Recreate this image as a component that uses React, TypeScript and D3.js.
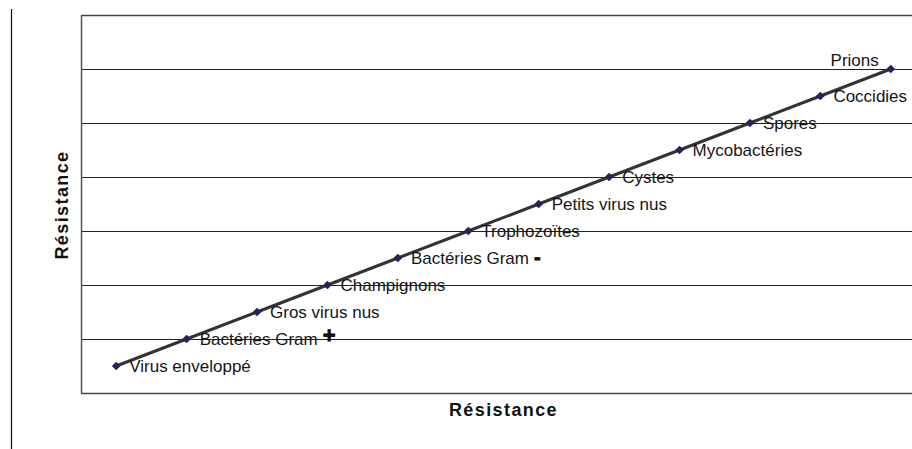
import React, { useEffect, useRef } from 'react'
import * as d3 from 'd3'

const categories = ['Virus enveloppé', 'Bactéries Gram', 'Gros virus nus', 'Champignons', 'Bactéries Gram', 'Trophozoïtes', 'Petits virus nus', 'Cystes', 'Mycobactéries', 'Spores', 'Coccidies', 'Prions'];
const suffixes = ['', '+', '', '', '-', '', '', '', '', '', '', ''];
const resistance = [1, 2, 3, 4, 5, 6, 7, 8, 9, 10, 11, 12];
const gridValues = [2, 4, 6, 8, 10, 12];

export default function App() {
  const ref = useRef<SVGSVGElement | null>(null);
  useEffect(() => {
    if (!ref.current) return;
    const svg = d3.select(ref.current);
    svg.selectAll('*').remove();
    const W = 912, H = 449;
    const left = 81, top = 15, bottom = 393, right = 926;
    const ids = categories.map((_, i) => String(i));
    const x = d3.scaleBand().domain(ids).range([left, right]).padding(0);
    const cx = (i: number) => (x(String(i)) as number) + x.bandwidth() / 2;
    const y = d3.scaleLinear().domain([0, 14]).range([bottom, top]);
    const font = '"Liberation Sans", Arial, sans-serif';

    svg.append('rect').attr('width', W).attr('height', H).attr('fill', '#fff');
    // outer frame line on the left
    svg.append('line').attr('x1', 11.5).attr('x2', 11.5).attr('y1', 9).attr('y2', H).attr('stroke', '#111').attr('stroke-width', 1.2);

    const g = svg.append('g');
    g.selectAll('line.grid').data(gridValues).enter().append('line')
      .attr('x1', left).attr('x2', right)
      .attr('y1', d => Math.round(y(d)) + 0.5).attr('y2', d => Math.round(y(d)) + 0.5)
      .attr('stroke', '#222').attr('stroke-width', 1.1);
    // plot border
    g.append('line').attr('x1', left).attr('x2', right).attr('y1', top + 0.5).attr('y2', top + 0.5).attr('stroke', '#444').attr('stroke-width', 1.5);
    g.append('line').attr('x1', left).attr('x2', right).attr('y1', bottom + 0.5).attr('y2', bottom + 0.5).attr('stroke', '#444').attr('stroke-width', 1.5);
    g.append('line').attr('x1', left + 0.5).attr('x2', left + 0.5).attr('y1', top).attr('y2', bottom).attr('stroke', '#555').attr('stroke-width', 1.5);

    const line = d3.line<number>().x((_, i) => cx(i)).y(d => y(d));
    g.append('path').datum(resistance).attr('d', line).attr('fill', 'none').attr('stroke', '#333').attr('stroke-width', 3);

    // square rotated 45° -> even diamond
    const sym = d3.symbol().type(d3.symbolSquare).size(38);
    g.selectAll('path.pt').data(resistance).enter().append('path')
      .attr('d', sym).attr('transform', (d, i) => `translate(${cx(i)},${y(d)}) rotate(45)`)
      .attr('fill', '#23235e');

    resistance.forEach((v, i) => {
      const last = i === resistance.length - 1;
      const t = g.append('text')
        .attr('x', last ? cx(i) - 12 : cx(i) + 13)
        .attr('y', last ? y(v) - 9 : y(v))
        .attr('dy', '0.35em')
        .attr('text-anchor', last ? 'end' : 'start')
        .attr('font-family', font).attr('font-size', 17).attr('fill', '#151515')
        .text(categories[i]);
      if (suffixes[i]) {
        t.append('tspan').attr('font-weight', 'bold').attr('font-size', suffixes[i] === '+' ? 22 : 20)
          .attr('stroke', '#000').attr('stroke-width', 0.8)
          .attr('dx', 5).attr('dy', suffixes[i] === '+' ? -2 : 0).text(suffixes[i]);
      }
    });

    svg.append('text').attr('x', (left + right) / 2).attr('y', 410).attr('dy', '0.35em')
      .attr('text-anchor', 'middle').attr('font-family', font).attr('font-weight', 'bold').attr('font-size', 18)
      .attr('letter-spacing', 1.4).attr('fill', '#111').text('Résistance');
    svg.append('text').attr('transform', `translate(62,205) rotate(-90)`).attr('dy', '0.35em')
      .attr('text-anchor', 'middle').attr('font-family', font).attr('font-weight', 'bold').attr('font-size', 18)
      .attr('letter-spacing', 1.4).attr('fill', '#111').text('Résistance');
  }, []);
  return <svg ref={ref} width={912} height={449} style={{ position: 'fixed', left: 0, top: 0, display: 'block' }} />;
}
